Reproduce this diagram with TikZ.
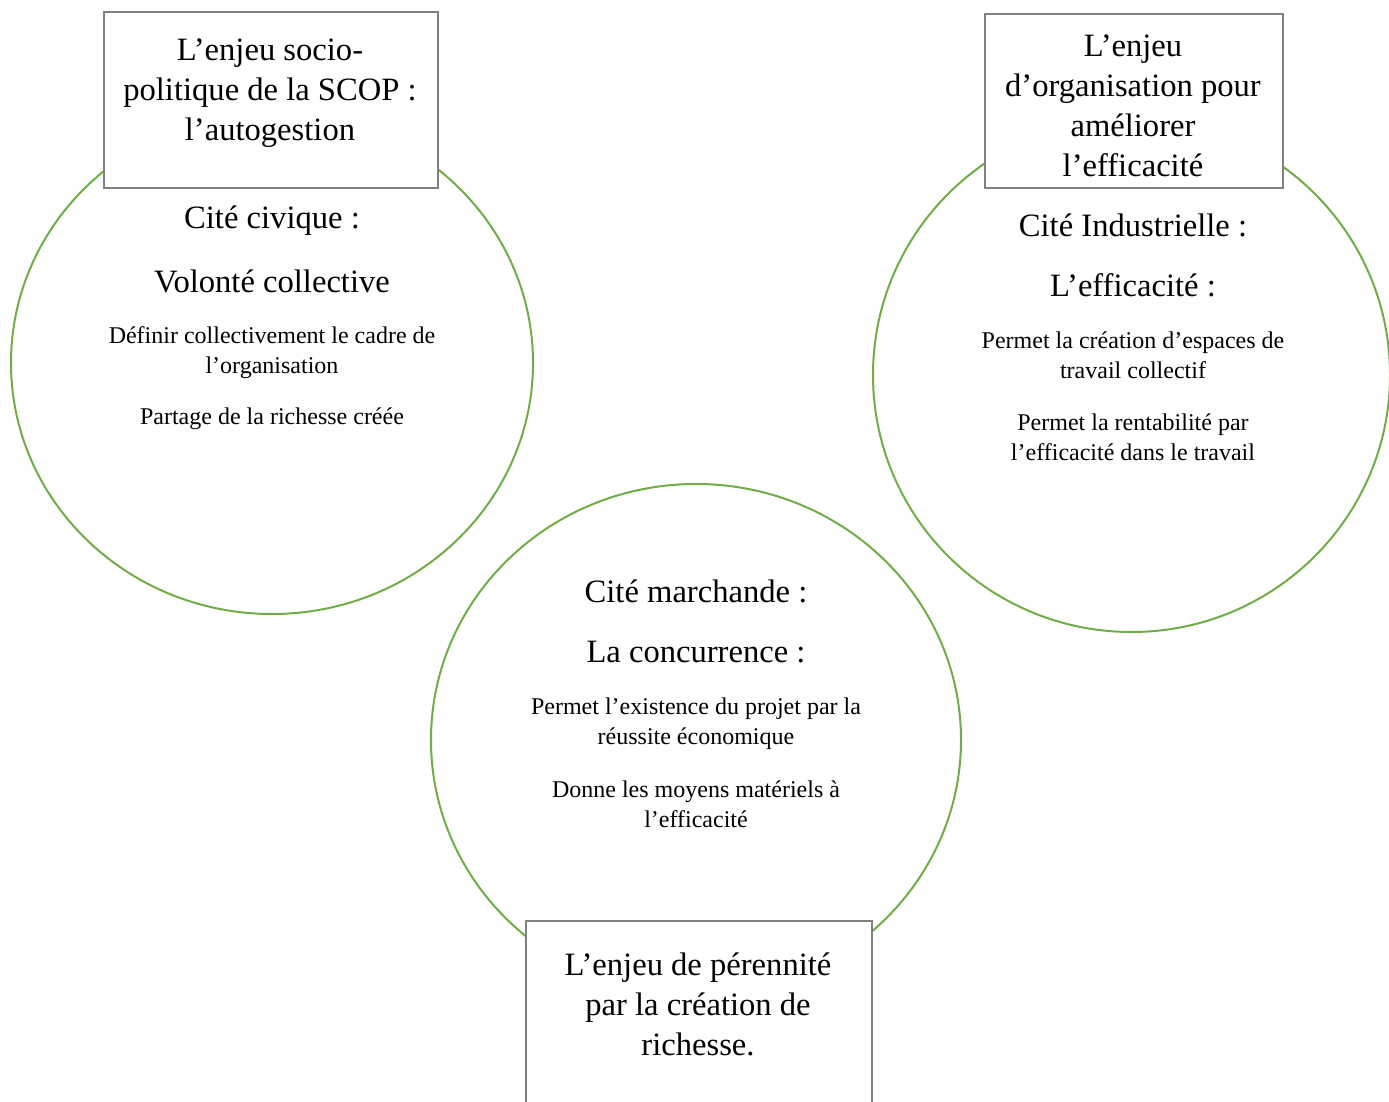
\documentclass[tikz,border=0pt]{standalone}
\usepackage{fontspec}
\setmainfont{Liberation Serif}
\usepackage{tikz}
\usetikzlibrary{positioning}
\definecolor{citeG}{RGB}{112,173,71}
\definecolor{boxgray}{RGB}{128,128,128}
\tikzset{
  cite/.style={draw=citeG, line width=1pt},
  enjeu/.style={rectangle, draw=boxgray, line width=1pt, fill=white, inner sep=0pt},
  grand/.style={align=center, inner sep=0pt, font=\fontsize{16.3}{20}\selectfont},
  petit/.style={align=center, inner sep=0pt, font=\fontsize{12}{15}\selectfont},
}
\begin{document}
\begin{tikzpicture}[x=0.5pt, y=-0.5pt]
  \useasboundingbox (0,0) rectangle (1389,1102);
  % Les trois cités
  \draw[cite] (272,363) ellipse [x radius=261, y radius=251];
  \draw[cite] (1131.5,375) ellipse [x radius=258.5, y radius=257];
  \draw[cite] (696,740) ellipse [x radius=265, y radius=256];
  % Encadrés des enjeux
  \node[enjeu, minimum width=167pt, minimum height=88pt] (b1) at (271,100) {};
  \node[grand] (t1) at (270,93) {L’enjeu socio-\\politique de la SCOP :\\l’autogestion};
  \node[enjeu, minimum width=149pt, minimum height=87pt] (b2) at (1134,101) {};
  \node[grand] (t2) at (1133,106) {L’enjeu\\d’organisation pour\\améliorer\\l’efficacité};
  \node[enjeu, minimum width=173pt, minimum height=100pt, anchor=north] (b3) at (699,920) {};
  \node[grand] (t3) at (698,1004) {L’enjeu de pérennité\\par la création de\\richesse.};
  % Cité civique
  \node[grand] (c1) at (272,221) {Cité civique :};
  \node[grand] (v1) at (272,281) {Volonté collective};
  \node[petit] (d1) at (272,353) {Définir collectivement le cadre de\\l’organisation};
  \node[petit] (p1) at (272,419) {Partage de la richesse créée};
  % Cité industrielle
  \node[grand] (c2) at (1133,225) {Cité Industrielle :};
  \node[grand] (v2) at (1133,285) {L’efficacité :};
  \node[petit] (d2) at (1133,355) {Permet la création d’espaces de\\travail collectif};
  \node[petit] (p2) at (1133,437) {Permet la rentabilité par\\l’efficacité dans le travail};
  % Cité marchande
  \node[grand] (c3) at (696,591) {Cité marchande :};
  \node[grand] (v3) at (696,652) {La concurrence :};
  \node[petit] (d3) at (696,724) {Permet l’existence du projet par la\\réussite économique};
  \node[petit] (p3) at (696,804) {Donne les moyens matériels à\\l’efficacité};
\end{tikzpicture}
\end{document}
